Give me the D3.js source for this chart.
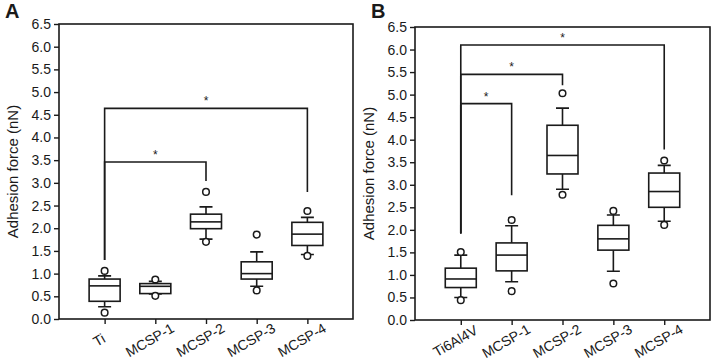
<!DOCTYPE html>
<html>
<head>
<meta charset="utf-8">
<script src="https://cdn.jsdelivr.net/npm/d3@7"></script>
<style>
  body { margin: 0; background: #fff; }
  svg { display: block; font-family: "Liberation Sans", Arial, sans-serif; }
  .frame, .line { fill: none; stroke: #1a1a1a; stroke-width: 1.6; }
  .box { fill: #fff; stroke: #1a1a1a; stroke-width: 1.6; }
  .out { fill: #fff; stroke: #1a1a1a; stroke-width: 1.5; }
  .axis path, .axis line { stroke: #1a1a1a; stroke-width: 1.4; }
  .axis text { font-size: 14px; fill: #1a1a1a; }
</style>
</head>
<body>
<svg id="chart" width="713" height="361"></svg>
<script>
// panel A
let catsA = ["Ti", "MCSP-1", "MCSP-2", "MCSP-3", "MCSP-4"];
let loA  = [0.27, 0.55, 1.76, 0.72, 1.42];
let q1A  = [0.39, 0.56, 1.99, 0.88, 1.62];
let medA = [0.73, 0.72, 2.14, 1.00, 1.87];
let q3A  = [0.88, 0.78, 2.31, 1.26, 2.13];
let hiA  = [0.95, 0.83, 2.47, 1.48, 2.24];
let outLoA = [0.14, 0.51, 1.70, 0.63, 1.39];
let outHiA = [1.06, 0.87, 2.80, 1.86, 2.38];
// brackets: [from, to, bar level, leg end at "from", leg end at "to"]
let sigA = [[0, 4, 4.64, 1.30, 2.80], [0, 2, 3.46, 1.30, 3.04]];

// panel B
let catsB = ["Ti6Al4V", "MCSP-1", "MCSP-2", "MCSP-3", "MCSP-4"];
let loB  = [0.50, 0.85, 2.90, 1.08, 2.19];
let q1B  = [0.72, 1.09, 3.24, 1.55, 2.50];
let medB = [0.91, 1.44, 3.65, 1.80, 2.85];
let q3B  = [1.15, 1.71, 4.32, 2.10, 3.26];
let hiB  = [1.44, 2.09, 4.70, 2.33, 3.43];
let outLoB = [0.44, 0.64, 2.78, 0.81, 2.11];
let outHiB = [1.51, 2.22, 5.03, 2.42, 3.54];
let sigB = [[0, 4, 6.10, 1.92, 3.78], [0, 2, 5.45, 1.92, 5.21], [0, 1, 4.80, 1.92, 2.77]];

let yTicks = d3.range(0, 6.51, 0.5);

let svg = d3.select("#chart");

function drawPanel(p) {
  let g = svg.append("g");
  let x = d3.scalePoint().domain(p.cats).range([p.left, p.right]).padding(0.9);
  let y = d3.scaleLinear().domain([0, 6.5]).range([p.bottom, p.top]);

  g.append("rect")
      .attr("class", "frame")
      .attr("x", p.left).attr("y", p.top)
      .attr("width", p.right - p.left).attr("height", p.bottom - p.top);

  g.append("g")
      .attr("class", "axis")
      .attr("transform", "translate(" + p.left + ",0)")
      .call(d3.axisLeft(y).tickValues(yTicks).tickFormat(d3.format(".1f")).tickSize(5).tickPadding(3))
      .call(a => a.select(".domain").remove());

  let xa = g.append("g")
      .attr("class", "axis")
      .attr("transform", "translate(0," + p.bottom + ")")
      .call(d3.axisBottom(x).tickSize(5).tickSizeOuter(0))
      .call(a => a.select(".domain").remove());
  // rotated labels, centred a little left of and below each tick
  xa.selectAll("text")
      .attr("text-anchor", "middle")
      .attr("y", 0)
      .attr("dy", "0.35em")
      .attr("transform", "translate(-6,21) rotate(-30)");

  // y title
  g.append("text")
      .attr("transform", "translate(" + (p.left - 41) + "," + ((p.top + p.bottom) / 2) + ") rotate(-90)")
      .attr("text-anchor", "middle")
      .style("font-size", "15px")
      .style("fill", "#1a1a1a")
      .text("Adhesion force (nN)");

  // panel letter
  g.append("text")
      .attr("x", p.letterX).attr("y", 18)
      .style("font-size", "20px").style("font-weight", "bold")
      .style("fill", "#1a1a1a")
      .text(p.letter);

  // significance brackets
  p.sig.forEach(function(s) {
    let x0 = x(p.cats[s[0]]), x1 = x(p.cats[s[1]]);
    g.append("path")
        .attr("class", "line")
        .attr("d", "M" + x0 + "," + y(s[3]) + "V" + y(s[2]) + "H" + x1 + "V" + y(s[4]));
    g.append("text")
        .attr("x", (x0 + x1) / 2).attr("y", y(s[2]) - 3)
        .attr("text-anchor", "middle")
        .style("font-size", "12px")
        .style("fill", "#1a1a1a")
        .text("*");
  });

  let bw = 31, cap = 13;
  p.cats.forEach(function(c, i) {
    let cx = x(c);
    g.append("path").attr("class", "line")
        .attr("d", "M" + cx + "," + y(p.hi[i]) + "V" + y(p.q3[i]) +
                   "M" + cx + "," + y(p.q1[i]) + "V" + y(p.lo[i]) +
                   "M" + (cx - cap / 2) + "," + y(p.hi[i]) + "h" + cap +
                   "M" + (cx - cap / 2) + "," + y(p.lo[i]) + "h" + cap);
    g.append("rect").attr("class", "box")
        .attr("x", cx - bw / 2).attr("y", y(p.q3[i]))
        .attr("width", bw).attr("height", y(p.q1[i]) - y(p.q3[i]));
    g.append("line").attr("class", "line")
        .attr("x1", cx - bw / 2).attr("x2", cx + bw / 2)
        .attr("y1", y(p.med[i])).attr("y2", y(p.med[i]));
    [p.outLo[i], p.outHi[i]].forEach(function(v) {
      g.append("circle").attr("class", "out")
          .attr("cx", cx).attr("cy", y(v)).attr("r", 3.3);
    });
  });
}

drawPanel({letter: "A", letterX: 5, cats: catsA, lo: loA, q1: q1A, med: medA, q3: q3A, hi: hiA,
           outLo: outLoA, outHi: outHiA, sig: sigA,
           left: 59, right: 353, top: 24, bottom: 319});
drawPanel({letter: "B", letterX: 371, cats: catsB, lo: loB, q1: q1B, med: medB, q3: q3B, hi: hiB,
           outLo: outLoB, outHi: outHiB, sig: sigB,
           left: 415, right: 710, top: 27, bottom: 320});
</script>
</body>
</html>
